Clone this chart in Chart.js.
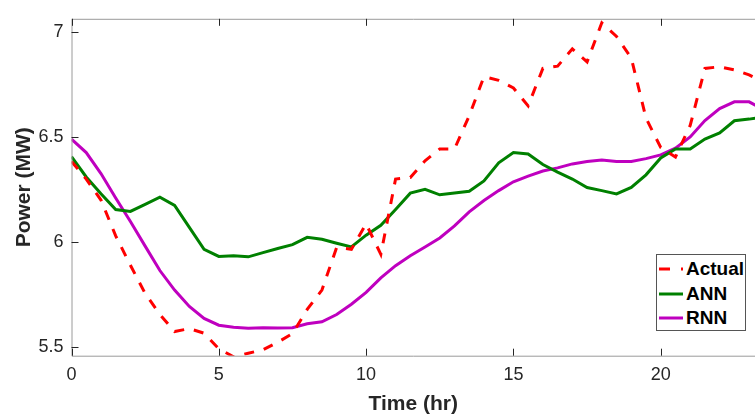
<!DOCTYPE html>
<html>
<head>
<meta charset="utf-8">
<script src="https://cdn.jsdelivr.net/npm/chart.js@4.4.1/dist/chart.umd.min.js"></script>
<style>
  html, body { margin: 0; padding: 0; background: #fff; }
  #wrap { position: relative; width: 755px; height: 417px; overflow: hidden; }
  #legend {
    position: absolute; left: 656px; top: 254px; width: 88px; height: 75px;
    border: 1px solid #555; background: #fff;
    font: bold 19px "Liberation Sans", Arial, sans-serif; color: #000;
  }
  .row { position: absolute; left: 2px; height: 24px; line-height: 24px; white-space: nowrap; }
  .row svg { position: absolute; left: 0; top: 10px; }
  .row span { position: absolute; left: 27px; }
</style>
</head>
<body>
<div id="wrap">
  <canvas id="chart" width="755" height="417"></canvas>
  <div id="legend"></div>
</div>
<script>
//hours, every half hour
var hours = [0,0.5,1,1.5,2,2.5,3,3.5,4,4.5,5,5.5,6,6.5,7,7.5,8,8.5,9,9.5,10,10.5,11,11.5,
             12,12.5,13,13.5,14,14.5,15,15.5,16,16.5,17,17.5,18,18.5,19,19.5,20,20.5,21,21.5,22,22.5,23,23.5];

var actual = [6.384,6.30,6.20,6.03,5.89,5.756,5.656,5.575,5.589,5.567,5.493,5.455,5.472,5.488,5.524,5.565,
              5.68,5.772,5.975,5.966,6.087,5.942,6.30,6.307,6.387,6.443,6.443,6.601,6.787,6.769,6.733,6.648,
              6.826,6.837,6.919,6.857,7.043,6.978,6.876,6.59,6.45,6.405,6.555,6.826,6.834,6.819,6.795,6.76];

var ann = [6.407,6.31,6.23,6.155,6.146,6.18,6.214,6.175,6.07,5.966,5.932,5.935,5.93,5.95,5.97,5.988,
           6.023,6.014,5.995,5.977,6.033,6.08,6.155,6.233,6.251,6.225,6.234,6.242,6.291,6.377,6.426,6.419,
           6.369,6.333,6.30,6.26,6.245,6.229,6.26,6.32,6.40,6.443,6.443,6.49,6.519,6.577,6.585,6.595];

var rnn = [6.49,6.426,6.326,6.21,6.098,5.981,5.865,5.772,5.694,5.637,5.605,5.595,5.591,5.593,5.592,5.593,
           5.612,5.621,5.656,5.705,5.761,5.83,5.888,5.935,5.977,6.02,6.077,6.144,6.198,6.245,6.287,6.314,
           6.338,6.353,6.372,6.383,6.391,6.384,6.384,6.397,6.415,6.447,6.5,6.578,6.635,6.667,6.667,6.63];

var xTicks = [0,5,10,15,20];
var yTicks = [5.5,6,6.5,7];

var seriesNames = ['Actual','ANN','RNN'];
var seriesColors = ['#ff0000','#008000','#bf00bf'];
var seriesDash = [[10,10],[],[]];

function toPoints(arr){
  var pts = [];
  arr.forEach(function(v, i){
    pts.push({x: hours[i], y: v});
  });
  return pts;
}

var fontFam = '"Liberation Sans", Arial, sans-serif';

//draw matlab style box axis with inward ticks
var matlabAxes = {
  id: 'matlabAxes',
  afterDatasetsDraw: function(chart){
    var ctx = chart.ctx;
    var a = chart.chartArea;
    var xs = chart.scales.x, ys = chart.scales.y;
    ctx.save();
    ctx.strokeStyle = '#9a9a9a';
    ctx.lineWidth = 1;
    ctx.beginPath();
    ctx.moveTo(a.left + 0.5, a.top + 0.5);
    ctx.lineTo(a.right, a.top + 0.5);
    ctx.moveTo(a.left + 0.5, a.top);
    ctx.lineTo(a.left + 0.5, a.bottom + 0.5);
    ctx.lineTo(a.right, a.bottom + 0.5);
    ctx.stroke();
    ctx.strokeStyle = '#262626';
    ctx.beginPath();
    xTicks.forEach(function(t){
      var px = Math.round(xs.getPixelForValue(t)) + 0.5;
      ctx.moveTo(px, a.bottom); ctx.lineTo(px, a.bottom - 7);
      ctx.moveTo(px, a.top); ctx.lineTo(px, a.top + 7);
    });
    yTicks.forEach(function(t){
      var py = Math.round(ys.getPixelForValue(t)) + 0.5;
      ctx.moveTo(a.left, py); ctx.lineTo(a.left + 7, py);
    });
    ctx.stroke();
    ctx.restore();
  }
};

var chart = new Chart(document.getElementById('chart').getContext('2d'), {
  type: 'line',
  data: {
    datasets: seriesNames.map(function(name, i){
      return {
        label: name,
        data: toPoints([actual, ann, rnn][i]),
        borderColor: seriesColors[i],
        backgroundColor: seriesColors[i],
        borderWidth: 3,
        borderDash: seriesDash[i],
        pointRadius: 0,
        tension: 0,
        fill: false
      };
    })
  },
  options: {
    responsive: false,
    animation: false,
    layout: { padding: { top: 11, right: 0, left: 0, bottom: 0 } },
    plugins: { legend: { display: false }, tooltip: { enabled: false } },
    scales: {
      x: {
        type: 'linear',
        min: 0,
        max: 23.2,
        grid: { display: false, drawTicks: false },
        border: { display: false },
        afterBuildTicks: function(s){ s.ticks = xTicks.map(function(v){ return {value: v}; }); },
        afterFit: function(s){ s.height = 61.3; },
        ticks: { color: '#262626', padding: 9, maxRotation: 0, font: { family: fontFam, size: 18 } },
        title: { display: true, text: 'Time (hr)', color: '#262626', padding: 0,
                 font: { family: fontFam, size: 21, weight: 'bold' } }
      },
      y: {
        min: 5.46,
        max: 7.062,
        grid: { display: false, drawTicks: false },
        border: { display: false },
        afterBuildTicks: function(s){ s.ticks = yTicks.map(function(v){ return {value: v}; }); },
        afterFit: function(s){ s.width = 71.5; },
        ticks: { color: '#262626', padding: 8, font: { family: fontFam, size: 18 },
                 callback: function(v){ return String(v); } },
        title: { display: true, text: 'Power (MW)', color: '#262626', padding: { top: 12, bottom: 0 },
                 font: { family: fontFam, size: 21, weight: 'bold' } }
      }
    }
  },
  plugins: [matlabAxes]
});

//legend box inside the plot
var legend = document.getElementById('legend');
seriesNames.forEach(function(name, i){
  var row = document.createElement('div');
  row.className = 'row';
  row.style.top = (2 + i * 24.5) + 'px';
  var dash = seriesDash[i].length ? ' stroke-dasharray="11 11"' : '';
  row.innerHTML = '<svg width="24" height="4"><line x1="0" y1="2" x2="24" y2="2" stroke="' + seriesColors[i] +
                  '" stroke-width="3"' + dash + '/></svg><span>' + name + '</span>';
  legend.appendChild(row);
});
</script>
</body>
</html>
